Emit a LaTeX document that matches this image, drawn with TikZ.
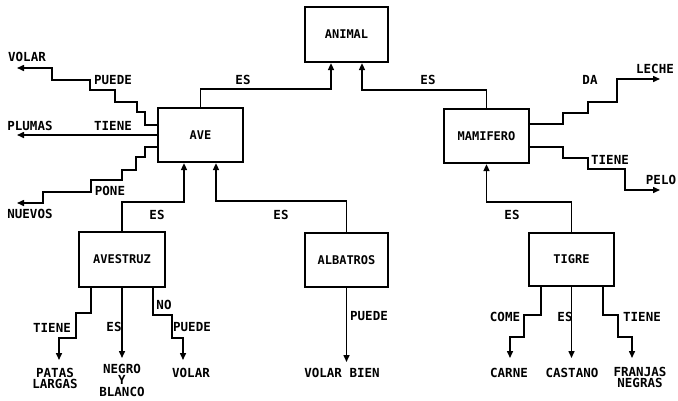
\documentclass[tikz,border=0pt]{standalone}
\usepackage{fontspec}
\setmainfont{DejaVu Sans Mono}
\usetikzlibrary{arrows.meta,calc}
\tikzset{
  box/.style={draw, line width=2.2pt, inner sep=0pt, font=\fontsize{12}{11}\selectfont\bfseries},
  lbl/.style={inner sep=0pt, font=\fontsize{12.5}{11.5}\selectfont\bfseries, align=center},
  con/.style={line width=1.5pt},
  arr/.style={con, -{Triangle[length=7pt,width=6pt]}}
}
\begin{document}
\begin{tikzpicture}[x=1pt,y=-1pt]
\useasboundingbox (0,0) rectangle (678,400);
% boxes
\node[box, minimum width=83pt, minimum height=55pt] (animal) at (346.5,34.5) {ANIMAL};
\node[box, minimum width=85pt, minimum height=54pt] (ave) at (200.5,135) {AVE};
\node[box, minimum width=85pt, minimum height=54pt] (mam) at (486.5,136) {MAMIFERO};
\node[box, minimum width=86pt, minimum height=55pt] (avestruz) at (122,259.5) {AVESTRUZ};
\node[box, minimum width=83pt, minimum height=54pt] (albatros) at (346.5,260) {ALBATROS};
\node[box, minimum width=85pt, minimum height=53pt] (tigre) at (571.5,259.5) {TIGRE};

% free ends
\coordinate (volarA) at (17,68);
\coordinate (plumasA) at (17,135);
\coordinate (nuevosA) at (17,203);
\coordinate (lecheA) at (660,79);
\coordinate (peloA) at (660,190);
\coordinate (patasA) at (59,360);
\coordinate (negroA) at (122,358);
\coordinate (nvolarA) at (183,360);
\coordinate (bienA) at (346.5,362);
\coordinate (carneA) at (510,358);
\coordinate (castanoA) at (571.5,358);
\coordinate (franjasA) at (632,358);

% ES to animal
\draw[arr] (ave.north) -- ++(0,-18) -| ($(animal.south)+(-15.5,0)$);
\draw[arr] (mam.north) -- ++(0,-18) -| ($(animal.south)+(15.5,0)$);
\node[lbl] (es1) at (243,80) {ES};
\node[lbl] (es2) at (428,80) {ES};

% AVE left
\draw[arr] ($(ave.west)+(0,-10)$) -| (145,112) -| (137,102) -| (115,90) -| (90,80) -| (52,68) -- (volarA);
\draw[arr] (ave.west) -- (plumasA);
\draw[arr] ($(ave.west)+(0,12)$) -| (145,157) -| (136,170) -| (122,180) -| (91,192) -| (43,203) -- (nuevosA);
\node[lbl] (volar1) at (27,57) {VOLAR};
\node[lbl] (puede1) at (113,80) {PUEDE};
\node[lbl] (tiene1) at (113,126) {TIENE};
\node[lbl] (plumas) at (30,126) {PLUMAS};
\node[lbl] (pone) at (110,191) {PONE};
\node[lbl] (nuevos) at (30,214) {NUEVOS};

% to AVE
\draw[arr] (avestruz.north) -- ++(0,-29) -| ($(ave.south)+(-16.5,0)$);
\draw[arr] (albatros.north) -- ++(0,-31) -| ($(ave.south)+(15.5,0)$);
\node[lbl] (es3) at (157,215) {ES};
\node[lbl] (es4) at (281,215) {ES};

% MAMIFERO right
\draw[arr] ($(mam.east)+(0,-12)$) -| (563,113) -| (588,102) -| (617,79) -- (lecheA);
\draw[arr] ($(mam.east)+(0,11)$) -| (563,158) -| (588,169) -| (625,190) -- (peloA);
\node[lbl] (da) at (590,80) {DA};
\node[lbl] (leche) at (655,69) {LECHE};
\node[lbl] (tiene2) at (610,160) {TIENE};
\node[lbl] (pelo) at (661,180) {PELO};

% to MAMIFERO
\draw[arr] (tigre.north) -- ++(0,-30) -| (mam.south);
\node[lbl] (es5) at (512,215) {ES};

% AVESTRUZ down
\draw[arr] ($(avestruz.south)+(-31,0)$) |- (76,313) |- (59,338) -- (patasA);
\draw[arr] (avestruz.south) -- (negroA);
\draw[arr] ($(avestruz.south)+(31,0)$) |- (172,315) |- (183,338) -- (nvolarA);
\node[lbl] (tiene3) at (52,328) {TIENE};
\node[lbl] (es6) at (114,327) {ES};
\node[lbl] (no) at (164,305) {NO};
\node[lbl] (puede2) at (192,327) {PUEDE};
\node[lbl, anchor=north] (patas) at (55,368) {PATAS\\LARGAS};
\node[lbl, anchor=north] (negro) at (122,364) {NEGRO\\Y\\BLANCO};
\node[lbl] (volar2) at (191,373) {VOLAR};

% ALBATROS down
\draw[arr] (albatros.south) -- (bienA);
\node[lbl] (puede3) at (369,316) {PUEDE};
\node[lbl] (bien) at (342,373) {VOLAR BIEN};

% TIGRE down
\draw[arr] ($(tigre.south)+(-30.5,0)$) |- (524,315) |- (510,337) -- (carneA);
\draw[arr] (tigre.south) -- (castanoA);
\draw[arr] ($(tigre.south)+(31.5,0)$) |- (618,315) |- (632,337) -- (franjasA);
\node[lbl] (come) at (505,317) {COME};
\node[lbl] (es7) at (565,317) {ES};
\node[lbl] (tiene4) at (642,317) {TIENE};
\node[lbl] (carne) at (509,373) {CARNE};
\node[lbl] (castano) at (572,373) {CASTANO};
\node[lbl, anchor=north] (franjas) at (640,367) {FRANJAS\\NEGRAS};
\end{tikzpicture}
\end{document}
